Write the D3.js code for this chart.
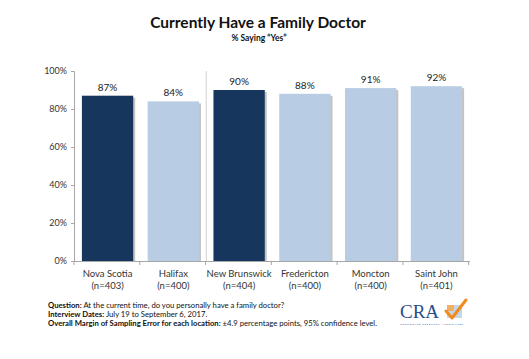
<!DOCTYPE html>
<html>
<head>
<meta charset="utf-8">
<script src="https://cdn.jsdelivr.net/npm/d3@7"></script>
<style>
  body { margin: 0; background: #fff; }
  svg { display: block; font-family: Lato, "Open Sans", sans-serif; }
</style>
</head>
<body>
<svg id="chart" width="529" height="359"></svg>
<script>
// data
var categories = ["Nova Scotia", "Halifax", "New Brunswick", "Fredericton", "Moncton", "Saint John"];
var sampleSizes = ["(n=403)", "(n=400)", "(n=404)", "(n=400)", "(n=400)", "(n=401)"];
var values = [87, 84, 90, 88, 91, 92];
var isProvince = [true, false, true, false, false, false];
var yTicks = [0, 20, 40, 60, 80, 100];

var svg = d3.select("#chart");

// Title block
svg.append("text")
	.attr("x", 258).attr("y", 28)
	.attr("text-anchor", "middle")
	.attr("font-size", 15.5).attr("font-weight", "bold")
	.attr("fill", "#111")
	.text("Currently Have a Family Doctor");
svg.append("text")
	.attr("x", 259).attr("y", 41)
	.attr("text-anchor", "middle")
	.attr("font-size", 8.5).attr("font-weight", "bold")
	.attr("fill", "#111")
	.text("% Saying \u201cYes\u201d");

// Scales
var x = d3.scaleBand()
	.domain(categories)
	.range([74, 470])
	.paddingInner(0.22)
	.paddingOuter(0.12);

var y = d3.scaleLinear()
	.domain([0, 100])
	.range([261, 71]);

var g = svg.append("g");

// Separator between Nova Scotia and New Brunswick groups
var sepX = x("New Brunswick") - x.step() * x.paddingInner() / 2;
g.append("line")
	.attr("x1", sepX).attr("x2", sepX)
	.attr("y1", y(100)).attr("y2", y(0))
	.attr("stroke", "#d0d0d0").attr("stroke-width", 1);

// Bars with a small drop shadow
var bars = g.selectAll(".bar")
	.data(values)
	.enter()
	.append("g")
	.attr("class", "bar");

bars.append("rect")
	.attr("x", (d, i) => x(categories[i]) + 2)
	.attr("y", d => y(d) + 2)
	.attr("width", x.bandwidth())
	.attr("height", d => y(0) - y(d) - 2)
	.attr("fill", "#c4c4c4");

bars.append("rect")
	.attr("x", (d, i) => x(categories[i]))
	.attr("y", d => y(d))
	.attr("width", x.bandwidth())
	.attr("height", d => y(0) - y(d))
	.attr("fill", (d, i) => isProvince[i] ? "#17365d" : "#b8cce4");

bars.append("text")
	.attr("x", (d, i) => x(categories[i]) + x.bandwidth() / 2)
	.attr("y", d => y(d) - 5)
	.attr("text-anchor", "middle")
	.attr("font-size", 10)
	.attr("fill", "#222")
	.text(d => d + "%");

// Y axis
var yAxis = d3.axisLeft(y)
	.tickValues(yTicks)
	.tickFormat(d => d + "%")
	.tickSize(3);
var yg = svg.append("g")
	.attr("transform", "translate(74,0)")
	.call(yAxis);
yg.select(".domain").attr("stroke", "#a6a6a6");
yg.selectAll(".tick line").attr("stroke", "#a6a6a6");
yg.selectAll(".tick text")
	.attr("font-family", "Lato, 'Open Sans', sans-serif")
	.attr("font-size", 9).attr("fill", "#333").attr("x", -7);

// X axis line with tick marks at band edges
svg.append("line")
	.attr("x1", 74).attr("x2", 470)
	.attr("y1", y(0) + 0.5).attr("y2", y(0) + 0.5)
	.attr("stroke", "#a6a6a6");
svg.selectAll(".xtick")
	.data(d3.range(categories.length + 1))
	.enter()
	.append("line")
	.attr("x1", i => 74 + i * x.step())
	.attr("x2", i => 74 + i * x.step())
	.attr("y1", y(0)).attr("y2", y(0) + 4)
	.attr("stroke", "#a6a6a6");

var labels = svg.selectAll(".xlabel")
	.data(categories)
	.enter()
	.append("text")
	.attr("class", "xlabel")
	.attr("text-anchor", "middle")
	.attr("font-size", 9.5)
	.attr("fill", "#333")
	.attr("x", d => x(d) + x.bandwidth() / 2);
labels.append("tspan")
	.attr("x", d => x(d) + x.bandwidth() / 2)
	.attr("y", 277)
	.text(d => d);
labels.append("tspan")
	.attr("x", d => x(d) + x.bandwidth() / 2)
	.attr("y", 289)
	.text((d, i) => sampleSizes[i]);

// Footnotes
var notes = [
	["Question:", " At the current time, do you personally have a family doctor?"],
	["Interview Dates:", " July 19 to September 6, 2017."],
	["Overall Margin of Sampling Error for each location:", " \u00b14.9 percentage points, 95% confidence level."]
];
svg.selectAll(".note")
	.data(notes)
	.enter()
	.append("text")
	.attr("class", "note")
	.attr("x", 48)
	.attr("y", (d, i) => 308 + i * 9)
	.attr("font-size", 7.7)
	.attr("fill", "#111")
	.each(function(d) {
		var t = d3.select(this);
		t.append("tspan").attr("font-weight", "bold").text(d[0]);
		t.append("tspan").text(d[1]);
	});

// CRA logo
var logo = svg.append("g").attr("transform", "translate(400,0)");
logo.append("rect")
	.attr("x", 47).attr("y", 305).attr("width", 15).attr("height", 13)
	.attr("fill", "#b8cce4").attr("opacity", 0.8);
logo.append("rect")
	.attr("x", 47).attr("y", 305).attr("width", 7).attr("height", 6)
	.attr("fill", "#f0b060");
logo.append("text")
	.attr("x", 0).attr("y", 318)
	.attr("font-family", "'Liberation Serif', 'DejaVu Serif', serif")
	.attr("font-size", 19)
	.attr("fill", "#2a4f8a")
	.text("CRA");
logo.append("path")
	.attr("d", "M46,311 L52,318 L66,300")
	.attr("fill", "none")
	.attr("stroke", "#f08a1c")
	.attr("stroke-width", 3)
	.attr("stroke-linecap", "round")
	.attr("stroke-linejoin", "round");
logo.append("text")
	.attr("x", 0).attr("y", 324.5)
	.attr("font-size", 2.6)
	.attr("fill", "#2a4f8a")
	.attr("textLength", 63)
	.text("CORPORATE RESEARCH ASSOCIATES");
</script>
</body>
</html>
